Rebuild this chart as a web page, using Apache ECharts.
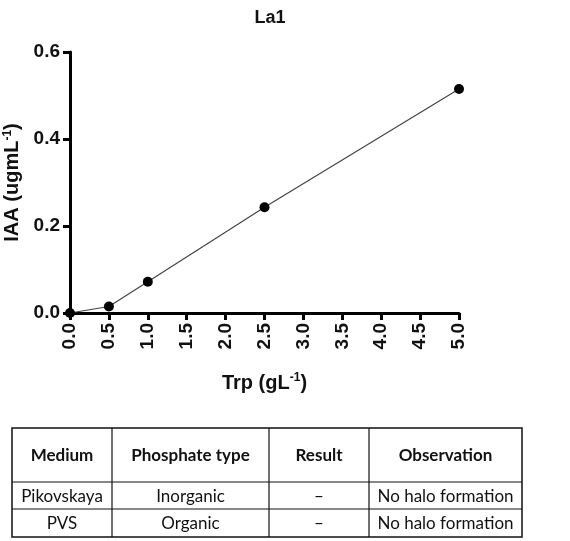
<!DOCTYPE html>
<html>
<head>
<meta charset="utf-8">
<script src="https://cdn.jsdelivr.net/npm/echarts@6/dist/echarts.min.js"></script>
<style>
  html, body { margin: 0; padding: 0; background: #fff; }
  #chart { width: 570px; height: 541px; }
</style>
</head>
<body>
<div id="chart"></div>
<script>
// Chart data
const trpValues = [0, 0.5, 1.0, 2.5, 5.0];
const iaaValues = [0, 0.015, 0.072, 0.243, 0.515];

// Table contents
const tableHeader = ['Medium', 'Phosphate type', 'Result', 'Observation'];
const tableRows = [
  ['Pikovskaya', 'Inorganic', '\u2013', 'No halo formation'],
  ['PVS', 'Organic', '\u2013', 'No halo formation']
];

// Table geometry
const colX = [12, 112, 269, 369, 522];
const rowY = [428, 482, 509, 537];

function buildTable() {
  const els = [];
  const left = colX[0], right = colX[colX.length - 1];
  const top = rowY[0], bottom = rowY[rowY.length - 1];
  // outer border
  els.push({
    type: 'rect',
    shape: { x: left, y: top, width: right - left, height: bottom - top },
    style: { fill: 'none', stroke: '#111', lineWidth: 1.5 }
  });
  // horizontal lines
  for (let i = 1; i < rowY.length - 1; i++) {
    els.push({
      type: 'line',
      shape: { x1: left, y1: rowY[i], x2: right, y2: rowY[i] },
      style: { stroke: '#111', lineWidth: 1.2 }
    });
  }
  // vertical lines
  for (let i = 1; i < colX.length - 1; i++) {
    els.push({
      type: 'line',
      shape: { x1: colX[i], y1: top, x2: colX[i], y2: bottom },
      style: { stroke: '#111', lineWidth: 1.2 }
    });
  }
  const allRows = [tableHeader].concat(tableRows);
  allRows.forEach((row, r) => {
    row.forEach((txt, c) => {
      els.push({
        type: 'text',
        style: {
          text: txt,
          x: (colX[c] + colX[c + 1]) / 2,
          y: (rowY[r] + rowY[r + 1]) / 2 + 1,
          align: 'center',
          verticalAlign: 'middle',
          fill: '#111',
          font: (r === 0 ? 'bold ' : '') + '17px Lato, "Open Sans", sans-serif'
        }
      });
    });
  });
  return els;
}

const chart = echarts.init(document.getElementById('chart'));

const axisFont = 'Liberation Sans, Arial, sans-serif';

const option = {
  animation: false,
  title: {
    text: 'La1',
    left: 265,
    top: 4,
    textAlign: 'center',
    textStyle: { fontFamily: axisFont, fontWeight: 'bold', fontSize: 18, color: '#111' }
  },
  grid: { left: 70, right: 111, top: 52, bottom: 228, outerBoundsMode: 'none', containLabel: false },
  xAxis: {
    type: 'value',
    min: 0,
    max: 5,
    interval: 0.5,
    name: '{n|Trp (gL}{s|-1}{n|)}',
    nameLocation: 'middle',
    nameGap: 59,
    nameTextStyle: {
      rich: {
        n: { fontFamily: axisFont, fontWeight: 'bold', fontSize: 20, color: '#111' },
        s: { fontFamily: axisFont, fontWeight: 'bold', fontSize: 12, color: '#111', verticalAlign: 'top', padding: [0, 0, 10, 0] }
      }
    },
    axisLine: { show: true, lineStyle: { color: '#000', width: 3 } },
    axisTick: { show: true, length: 7, lineStyle: { color: '#000', width: 3 } },
    splitLine: { show: false },
    axisLabel: {
      rotate: 90,
      margin: 10,
      fontFamily: axisFont,
      fontWeight: 'bold',
      fontSize: 19,
      color: '#111',
      formatter: v => v.toFixed(1)
    }
  },
  yAxis: {
    type: 'value',
    min: 0,
    max: 0.6,
    interval: 0.2,
    name: '{n|IAA (ugmL}{s|-1}{n|)}',
    nameLocation: 'middle',
    nameGap: 44,
    nameTextStyle: {
      rich: {
        n: { fontFamily: axisFont, fontWeight: 'bold', fontSize: 20, color: '#111' },
        s: { fontFamily: axisFont, fontWeight: 'bold', fontSize: 12, color: '#111', verticalAlign: 'top', padding: [0, 0, 10, 0] }
      }
    },
    axisLine: { show: true, lineStyle: { color: '#000', width: 3 } },
    axisTick: { show: true, length: 7, lineStyle: { color: '#000', width: 3 } },
    splitLine: { show: false },
    axisLabel: {
      margin: 10,
      fontFamily: axisFont,
      fontWeight: 'bold',
      fontSize: 19,
      color: '#111',
      formatter: v => v.toFixed(1)
    }
  },
  series: [
    {
      type: 'line',
      data: trpValues.map((x, i) => [x, iaaValues[i]]),
      symbol: 'circle',
      symbolSize: 10,
      itemStyle: { color: '#000' },
      lineStyle: { color: '#444', width: 1.2 },
      z: 5
    }
  ],
  graphic: buildTable()
};

chart.setOption(option);
</script>
</body>
</html>
